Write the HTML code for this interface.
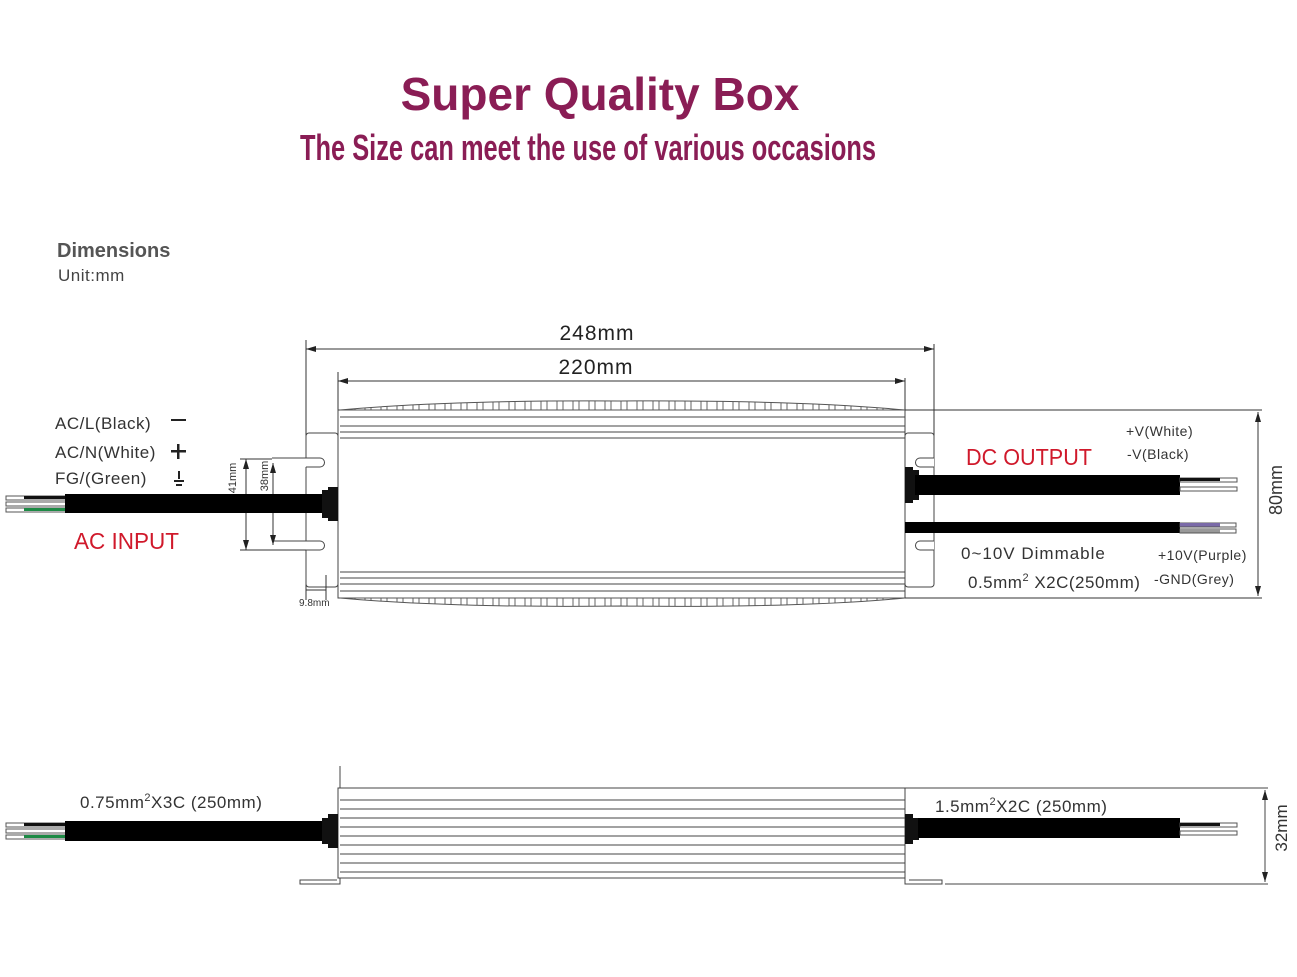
<!DOCTYPE html>
<html><head><meta charset="utf-8"><style>
html,body{margin:0;padding:0;background:#fff;}
svg{display:block;}
text{font-family:"Liberation Sans",sans-serif;}
</style></head><body>
<svg width="1297" height="977" viewBox="0 0 1297 977" xmlns="http://www.w3.org/2000/svg">
<defs>
<pattern id="fin" x="338" y="0" width="16" height="10" patternUnits="userSpaceOnUse">
<line x1="1" y1="0" x2="1" y2="10" stroke="#666" stroke-width="1"/>
<line x1="11" y1="0" x2="11" y2="10" stroke="#666" stroke-width="1"/>
</pattern>
<marker id="ar" markerWidth="10" markerHeight="6" refX="10" refY="3" orient="auto-start-reverse" markerUnits="userSpaceOnUse">
<path d="M0,0 L10,3 L0,6 Z" fill="#222"/></marker>
</defs>

<text x="600" y="110" text-anchor="middle" font-size="46" font-weight="bold" fill="#8a1d55">Super Quality Box</text>
<text x="300" y="160" font-size="36" font-weight="bold" fill="#8a1d55" textLength="576" lengthAdjust="spacingAndGlyphs">The Size can meet the use of various  occasions</text>

<text x="57" y="257" font-size="20" font-weight="bold" fill="#555">Dimensions</text>
<text x="58" y="281" font-size="17" fill="#444" letter-spacing="0.5">Unit:mm</text>

<g stroke="#333" stroke-width="1" fill="none">
<line x1="306" y1="340" x2="306" y2="590"/>
<line x1="934" y1="344" x2="934" y2="440"/>
<line x1="306" y1="349" x2="934" y2="349" marker-start="url(#ar)" marker-end="url(#ar)"/>
<line x1="338" y1="372" x2="338" y2="410"/>
<line x1="905" y1="378" x2="905" y2="410"/>
<line x1="338" y1="381" x2="905" y2="381" marker-start="url(#ar)" marker-end="url(#ar)"/>
</g>
<text x="597" y="340" text-anchor="middle" font-size="21" fill="#222" letter-spacing="1">248mm</text>
<text x="596" y="374" text-anchor="middle" font-size="21" fill="#222" letter-spacing="1">220mm</text>

<g stroke="#444" stroke-width="1" fill="none">
<rect x="306" y="433" width="32" height="154" rx="3"/>
<rect x="905" y="433" width="29" height="154" rx="3"/>
<rect x="338" y="410" width="567" height="188" fill="#fff"/>
<line x1="340" y1="417" x2="905" y2="417"/>
<line x1="340" y1="426" x2="905" y2="426"/>
<line x1="340" y1="432" x2="905" y2="432"/>
<line x1="340" y1="438" x2="905" y2="438"/>
<line x1="340" y1="572" x2="905" y2="572"/>
<line x1="340" y1="578" x2="905" y2="578"/>
<line x1="340" y1="584" x2="905" y2="584"/>
<line x1="340" y1="591" x2="905" y2="591"/>
</g>
<path d="M340,410 Q450,400 620,401 Q800,400 905,410 Z" fill="url(#fin)" stroke="#555"/>
<path d="M340,598 Q450,608 620,606 Q800,608 905,598 Z" fill="url(#fin)" stroke="#555"/>
<g stroke="#444" stroke-width="1" fill="#fff">
<path d="M272,458 H320 A4,4 0 0 1 320,467 H306"/>
<path d="M272,541 H320 A4,4 0 0 1 320,550 H306"/>
<path d="M934,458 H920 A4,4 0 0 0 920,467 H934"/>
<path d="M934,541 H920 A4,4 0 0 0 920,550 H934"/>
</g>
<g stroke="#333" stroke-width="1" fill="none">
<line x1="246" y1="459" x2="246" y2="550" marker-start="url(#ar)" marker-end="url(#ar)"/>
<line x1="240" y1="459" x2="272" y2="459"/>
<line x1="240" y1="550" x2="306" y2="550"/>
<line x1="273" y1="463" x2="273" y2="545" marker-start="url(#ar)" marker-end="url(#ar)"/>
<line x1="306" y1="588" x2="306" y2="600"/>
<line x1="326" y1="575" x2="326" y2="600"/>
<line x1="306" y1="590" x2="326" y2="590"/>
</g>
<text transform="translate(236,478) rotate(-90)" text-anchor="middle" font-size="11" fill="#333">41mm</text>
<text transform="translate(268,476) rotate(-90)" text-anchor="middle" font-size="11" fill="#333">38mm</text>
<text x="299" y="606" font-size="10" fill="#333">9.8mm</text>

<g stroke="#555" stroke-width="1" fill="#fff">
<rect x="6" y="496" width="60" height="4"/><rect x="6" y="502" width="60" height="4"/><rect x="6" y="508" width="60" height="4"/>
</g>
<rect x="24" y="496" width="42" height="3" fill="#111"/>
<rect x="24" y="508" width="42" height="3" fill="#1d8a45"/>
<rect x="65" y="494" width="262" height="19" fill="#000"/>
<path d="M322,490 h6 v-3 h10 v34 h-10 v-3 h-6 Z" fill="#111"/>

<text x="55" y="429" font-size="17" fill="#333" letter-spacing="0.5">AC/L(Black)</text>
<text x="55" y="458" font-size="17" fill="#333" letter-spacing="0.5">AC/N(White)</text>
<text x="55" y="484" font-size="17" fill="#333" letter-spacing="0.5">FG/(Green)</text>
<rect x="171" y="419" width="15" height="2" fill="#222"/>
<rect x="171" y="450" width="15" height="2.5" fill="#222"/><rect x="177" y="444" width="2.5" height="15" fill="#222"/>
<rect x="178" y="471" width="2" height="8" fill="#222"/><rect x="174" y="480" width="10" height="2" fill="#222"/><rect x="176" y="484" width="6" height="2" fill="#222"/>
<text x="74" y="549" font-size="23" fill="#d0192b" textLength="105" lengthAdjust="spacingAndGlyphs">AC INPUT</text>

<g stroke="#333" stroke-width="1" fill="none">
<line x1="905" y1="410" x2="1262" y2="410"/>
<line x1="905" y1="598" x2="1262" y2="598"/>
<line x1="1258" y1="412" x2="1258" y2="596" marker-start="url(#ar)" marker-end="url(#ar)"/>
</g>
<text transform="translate(1282,490) rotate(-90)" text-anchor="middle" font-size="18" fill="#333">80mm</text>
<path d="M905,467 h8 v3 h6 v30 h-6 v3 h-8 Z" fill="#111"/>
<rect x="915" y="475" width="265" height="20" fill="#000"/>
<g stroke="#555" stroke-width="1" fill="#fff">
<rect x="1180" y="478" width="57" height="4"/><rect x="1180" y="487" width="57" height="4"/>
</g>
<rect x="1180" y="478" width="40" height="3" fill="#111"/>
<rect x="905" y="522" width="275" height="11" fill="#000"/>
<g stroke="#555" stroke-width="1" fill="#fff">
<rect x="1180" y="523" width="56" height="4"/><rect x="1180" y="529" width="56" height="4"/>
</g>
<rect x="1180" y="523" width="40" height="3.5" fill="#7a6aa8"/>
<rect x="1180" y="529" width="40" height="3.5" fill="#999"/>
<text x="966" y="465" font-size="23" fill="#d0192b" textLength="126" lengthAdjust="spacingAndGlyphs">DC OUTPUT</text>
<text x="1126" y="436" font-size="14" fill="#333" letter-spacing="0.5">+V(White)</text>
<text x="1127" y="459" font-size="14" fill="#333" letter-spacing="0.5">-V(Black)</text>
<text x="961" y="559" font-size="17" fill="#333" letter-spacing="1">0~10V  Dimmable</text>
<text x="968" y="588" font-size="17" fill="#333" letter-spacing="0.5">0.5mm<tspan font-size="11" dy="-7">2</tspan><tspan dy="7"> X2C(250mm)</tspan></text>
<text x="1158" y="560" font-size="14" fill="#333" letter-spacing="0.5">+10V(Purple)</text>
<text x="1154" y="584" font-size="14" fill="#333" letter-spacing="0.5">-GND(Grey)</text>

<g stroke="#444" stroke-width="1" fill="none">
<line x1="340" y1="766" x2="340" y2="884"/>
<rect x="338" y="788" width="567" height="90" fill="#fff"/>
<line x1="340" y1="800" x2="905" y2="800"/>
<line x1="340" y1="809" x2="905" y2="809"/>
<line x1="340" y1="818" x2="905" y2="818"/>
<line x1="340" y1="827" x2="905" y2="827"/>
<line x1="340" y1="836" x2="905" y2="836"/>
<line x1="340" y1="845" x2="905" y2="845"/>
<line x1="340" y1="854" x2="905" y2="854"/>
<line x1="340" y1="863" x2="905" y2="863"/>
<line x1="340" y1="872" x2="905" y2="872"/>
<path d="M340,878 v6 h-40 v-4 h37"/>
<path d="M905,788 v96 h37 v-4 h-33"/>
<line x1="905" y1="788" x2="1268" y2="788"/>
<line x1="945" y1="884" x2="1268" y2="884"/>
<line x1="1265" y1="790" x2="1265" y2="882" marker-start="url(#ar)" marker-end="url(#ar)"/>
</g>
<text transform="translate(1287,828) rotate(-90)" text-anchor="middle" font-size="17" fill="#333">32mm</text>
<g stroke="#555" stroke-width="1" fill="#fff">
<rect x="6" y="823" width="60" height="4"/><rect x="6" y="829" width="60" height="4"/><rect x="6" y="835" width="60" height="4"/>
</g>
<rect x="24" y="823" width="42" height="3" fill="#111"/>
<rect x="24" y="835" width="42" height="3" fill="#1d8a45"/>
<rect x="65" y="821" width="262" height="20" fill="#000"/>
<path d="M322,818 h6 v-4 h10 v34 h-10 v-4 h-6 Z" fill="#111"/>
<text x="80" y="808" font-size="17" fill="#333" letter-spacing="0.5">0.75mm<tspan font-size="11" dy="-7">2</tspan><tspan dy="7">X3C (250mm)</tspan></text>
<path d="M905,814 h8 v4 h6 v22 h-6 v4 h-8 Z" fill="#111"/>
<rect x="918" y="818" width="262" height="20" fill="#000"/>
<g stroke="#555" stroke-width="1" fill="#fff">
<rect x="1180" y="823" width="57" height="4"/><rect x="1180" y="831" width="57" height="4"/>
</g>
<rect x="1180" y="823" width="40" height="3" fill="#111"/>
<text x="935" y="812" font-size="17" fill="#333" letter-spacing="0.5">1.5mm<tspan font-size="11" dy="-7">2</tspan><tspan dy="7">X2C (250mm)</tspan></text>
</svg>
</body></html>
